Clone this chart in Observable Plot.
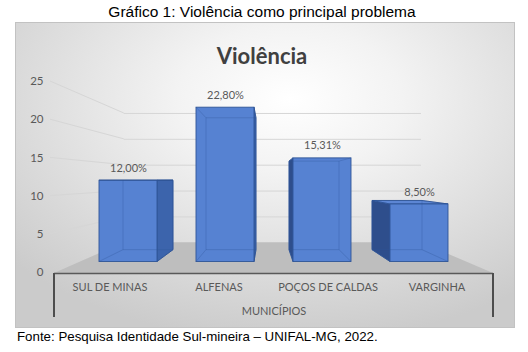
<!DOCTYPE html>
<html>
<head>
<meta charset="utf-8">
<script src="https://cdn.jsdelivr.net/npm/d3@7"></script>
<script src="https://cdn.jsdelivr.net/npm/@observablehq/plot@0.6"></script>
<style>
  body { margin: 0; background: #fff; width: 528px; height: 352px; overflow: hidden;
         font-family: "Liberation Sans", Arial, sans-serif; }
  #title { height: 22px; line-height: 24px; text-align: center; font-size: 15.5px; color: #000; padding-right: 4px; }
  #wrap { position: relative; width: 528px; height: 306px; }
  #box { position: absolute; left: 15px; top: 0; width: 500px; height: 306px; box-sizing: border-box;
         border: 1px solid #c2c2c2;
         background: radial-gradient(ellipse 75% 80% at 55% 25%, #ffffff 0%, #f3f3f3 30%, #dcdcdc 70%, #cbcbcb 100%); }
  #chart { position: absolute; left: 0; top: 0; }
  #caption { font-size: 13.3px; padding-left: 17px; line-height: 18px; color: #000; }
</style>
</head>
<body>
<div id="title">Gráfico 1: Violência como principal problema</div>
<div id="wrap"><div id="box"></div><div id="chart"></div></div>
<div id="caption">Fonte: Pesquisa Identidade Sul-mineira – UNIFAL-MG, 2022.</div>
<script>
// ---- data ----
const chartTitle = "Violência";
const axisTitle = "MUNICÍPIOS";
const categories = ["SUL DE MINAS", "ALFENAS", "POÇOS DE CALDAS", "VARGINHA"];
const values = [12.00, 22.80, 15.31, 8.50];
const valueLabels = ["12,00%", "22,80%", "15,31%", "8,50%"];
const yTicks = [0, 5, 10, 15, 20, 25];
const yMax = 25;

const data = categories.map((c, i) => ({cat: c, value: values[i], label: valueLabels[i]}));

// ---- layout (3D perspective planes) ----
const W = 528, H = 306;
const L = 54, R = 493, T = 59, B = 250;   // front plane frame
const VX = 270, VY = 158;                 // vanishing point
const S_WALL = 0.677, S_BACK = 0.757, S_FRONT = 0.886;
const FONT = "Lato, 'Open Sans', sans-serif";
const xOpts = {type: "band", domain: categories, paddingInner: 0.4, paddingOuter: 0.2};

function planePlot(s, marks) {
  const px = a => VX + s * (a - VX), py = a => VY + s * (a - VY);
  return Plot.plot({
    width: W, height: H,
    marginLeft: px(L), marginRight: W - px(R), marginTop: py(T), marginBottom: H - py(B),
    x: {...xOpts, axis: null},
    y: {domain: [0, yMax], axis: null},
    style: {background: "transparent", fontFamily: FONT},
    marks
  });
}

const main = Plot.plot({
  width: W, height: H,
  marginLeft: L, marginRight: W - R, marginTop: T, marginBottom: H - B,
  x: {...xOpts},
  y: {domain: [0, yMax]},
  style: {background: "transparent", fontFamily: FONT, overflow: "visible"},
  marks: [
    Plot.axisY({ticks: yTicks, tickSize: 0, tickPadding: 11, fontSize: 11.5, color: "#595959", label: null}),
    Plot.axisX({tickSize: 0, tickPadding: 11, fontSize: 11, color: "#595959", label: null}),
    Plot.ruleY([0], {stroke: "#595959", strokeWidth: 1.3, dy: 1}),
    Plot.text([chartTitle], {frameAnchor: "top", dx: -12, dy: -33, fontSize: 22, fontWeight: "bold", fill: "#404040"}),
    Plot.text([axisTitle], {frameAnchor: "bottom", dy: 42, fontSize: 11, fill: "#595959"})
  ]
});

const wall = planePlot(S_WALL, [
  Plot.ruleY(yTicks.filter(v => v > 0), {stroke: "#d6d6d6", strokeWidth: 1})
]);
const back = planePlot(S_BACK, []);
const front = planePlot(S_FRONT, [
  Plot.barY(data, {x: "cat", y: "value", fill: "#5682d2", stroke: "#2f5597", strokeWidth: 0.9}),
  Plot.text(data, {x: "cat", y: "value", text: "label", dy: -12.5, fontSize: 11, fill: "#595959"})
]);

document.getElementById("chart").appendChild(main);

const xM = main.scale("x"), yM = main.scale("y");
const xW = wall.scale("x"), yW = wall.scale("y");
const xB = back.scale("x"), yB = back.scale("y");
const xF = front.scale("x"), yF = front.scale("y");

const svg = d3.select(main);
const layer = svg.insert("g", ":first-child").attr("class", "scene");
const line = d3.line();

// back wall gridlines
wall.querySelectorAll('g[aria-label="rule"]').forEach(g => layer.node().appendChild(g));

// left wall gridlines (front edge -> back wall)
yTicks.filter(v => v > 0).forEach(v => {
  layer.append("path")
    .attr("d", line([[xM.range[0] - 4, yM.apply(v)], [xW.range[0], yW.apply(v)]]))
    .attr("stroke", "#d6d6d6").attr("fill", "none");
});

// floor
layer.append("path")
  .attr("d", line([[xM.range[0], yM.apply(0) + 1], [xM.range[1], yM.apply(0) + 1],
                   [xW.range[1], yW.apply(0)], [xW.range[0], yW.apply(0)]]) + "Z")
  .attr("fill", "#bebebe");

// bar side / top faces
const faces = layer.append("g");
const boxes = data.map(d => {
  const fx0 = xF.apply(d.cat), fx1 = fx0 + xF.bandwidth, fyT = yF.apply(d.value), fyB = yF.apply(0);
  const bx0 = xB.apply(d.cat), bx1 = bx0 + xB.bandwidth, byT = yB.apply(d.value), byB = yB.apply(0);
  return {fx0, fx1, fyT, fyB, bx0, bx1, byT, byB};
});
boxes.forEach(b => {
  if (b.bx1 > b.fx1) faces.append("path")
    .attr("d", line([[b.fx1, b.fyT], [b.bx1, b.byT], [b.bx1, b.byB], [b.fx1, b.fyB]]) + "Z")
    .attr("fill", "#3c64ac").attr("stroke", "#2f5597").attr("stroke-width", 0.9);
  if (b.bx0 < b.fx0) faces.append("path")
    .attr("d", line([[b.fx0, b.fyT], [b.bx0, b.byT], [b.bx0, b.byB], [b.fx0, b.fyB]]) + "Z")
    .attr("fill", "#2e4e8c").attr("stroke", "#2f5597").attr("stroke-width", 0.9);
  if (b.byT < b.fyT) faces.append("path")
    .attr("d", line([[b.fx0, b.fyT], [b.bx0, b.byT], [b.bx1, b.byT], [b.fx1, b.fyT]]) + "Z")
    .attr("fill", "#5c86d4").attr("stroke", "#2f5597").attr("stroke-width", 0.9);
});

// front faces
front.querySelectorAll('g[aria-label="bar"]').forEach(g => layer.node().appendChild(g));

// hidden back edges seen through the translucent bars
const edges = layer.append("g").attr("stroke", "#2f5597").attr("stroke-opacity", 0.4)
  .attr("stroke-width", 0.8).attr("fill", "none");
boxes.forEach(b => {
  edges.append("path").attr("d", line([[b.bx0, b.byT], [b.bx1, b.byT], [b.bx1, b.byB], [b.bx0, b.byB]]) + "Z");
  edges.append("path").attr("d", line([[b.fx0, b.fyB], [b.bx0, b.byB]]));
  edges.append("path").attr("d", line([[b.fx1, b.fyB], [b.bx1, b.byB]]));
  edges.append("path").attr("d", line([[b.fx0, b.fyT], [b.bx0, b.byT]]));
  edges.append("path").attr("d", line([[b.fx1, b.fyT], [b.bx1, b.byT]]));
});

// value labels
front.querySelectorAll('g[aria-label="text"]').forEach(g => layer.node().appendChild(g));

// outer vertical lines of the category axis box
[xM.range[0], xM.range[1]].forEach(x => {
  svg.append("path").attr("d", line([[x, yM.apply(0) + 1], [x, yM.apply(0) + 45]]))
    .attr("stroke", "#4d4d4d").attr("stroke-width", 2).attr("fill", "none");
});
</script>
</body>
</html>
